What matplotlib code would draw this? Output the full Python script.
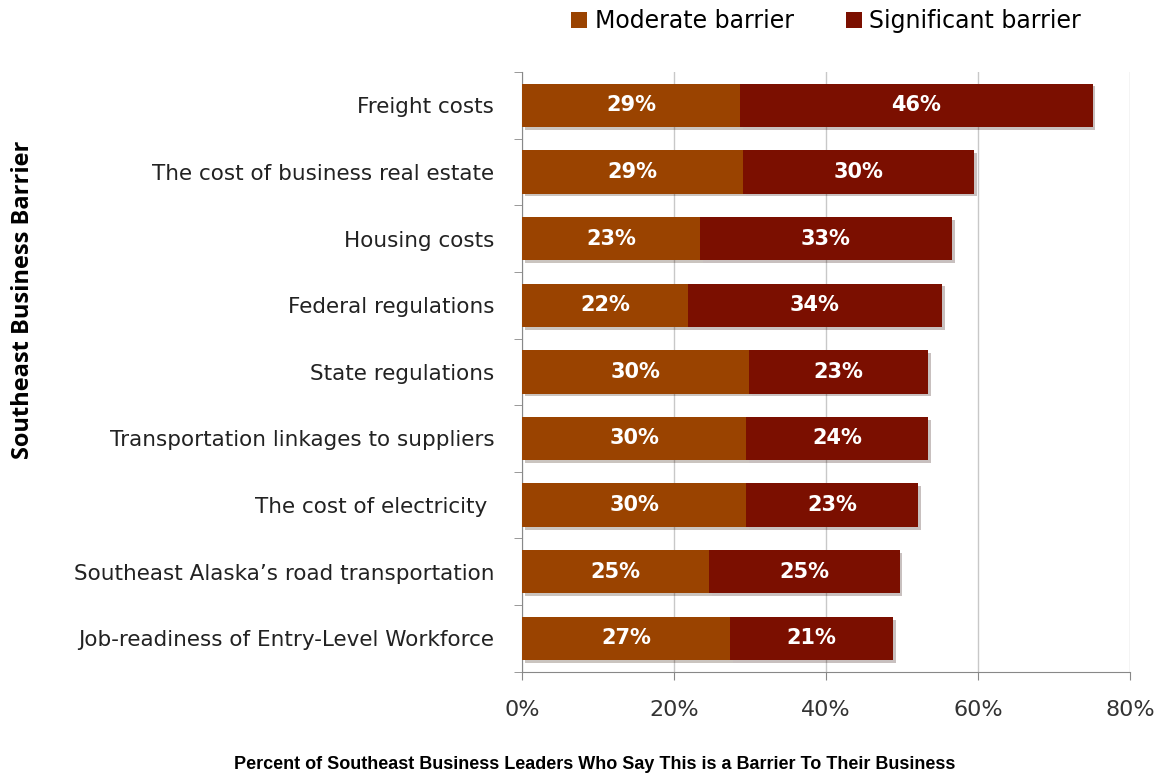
import matplotlib
matplotlib.use('Agg')
import matplotlib.pyplot as plt
import matplotlib.patheffects as pe
from matplotlib.ticker import FuncFormatter

# %%
categories = [
    "Freight costs",
    "The cost of business real estate",
    "Housing costs",
    "Federal regulations",
    "State regulations",
    "Transportation linkages to suppliers",
    "The cost of electricity ",
    "Southeast Alaska\u2019s road transportation",
    "Job-readiness of Entry-Level Workforce",
]
moderate = [28.7, 29.1, 23.4, 21.8, 29.9, 29.5, 29.5, 24.6, 27.4]
significant = [46.4, 30.4, 33.2, 33.5, 23.5, 23.9, 22.6, 25.1, 21.4]
moderate_labels = ["29%", "29%", "23%", "22%", "30%", "30%", "30%", "25%", "27%"]
significant_labels = ["46%", "30%", "33%", "34%", "23%", "24%", "23%", "25%", "21%"]

plt.rcParams['font.family'] = ['DejaVu Sans']

fig = plt.figure(figsize=[11.6, 7.82], dpi=100)
ax = fig.add_axes([0.45, 0.141, 0.524, 0.767])

y = list(range(len(categories)))
shadow = [pe.SimplePatchShadow(offset=(2, -2), alpha=0.25), pe.Normal()]
b1 = ax.barh(y, moderate, height=0.65, color='#9A4300', label='Moderate barrier',
             path_effects=shadow, zorder=3)
b2 = ax.barh(y, significant, left=moderate, height=0.65, color='#7B0F00',
             label='Significant barrier', path_effects=shadow, zorder=3)

for i in y:
    ax.text(moderate[i] / 2, i, moderate_labels[i], ha='center', va='center',
            color='white', fontsize=15, fontweight='bold', zorder=4)
    ax.text(moderate[i] + significant[i] / 2, i, significant_labels[i], ha='center',
            va='center', color='white', fontsize=15, fontweight='bold', zorder=4)

ax.set_ylim(len(categories) - 0.5, -0.5)
ax.set_xlim(0, 80)
ax.set_xticks([0, 20, 40, 60, 80])
ax.xaxis.set_major_formatter(FuncFormatter(lambda v, p: '{:.0f}%'.format(v)))
ax.set_yticks(y)
ax.set_yticklabels(categories, fontsize=15.5, color='#222222')
ax.set_yticks([i + 0.5 for i in range(-1, len(categories))], minor=True)
ax.tick_params(axis='y', which='major', length=0, pad=20)
ax.tick_params(axis='y', which='minor', length=6, color='#888888')
ax.tick_params(axis='x', labelsize=16, length=6, color='#888888', pad=14, labelcolor='#333333')
ax.grid(axis='x', color='#c8c8c8', linewidth=1, zorder=0)
for s in ['top', 'right']:
    ax.spines[s].set_visible(False)
for s in ['left', 'bottom']:
    ax.spines[s].set_color('#888888')

fig.text(0.02, 0.617, 'Southeast Business Barrier', rotation=90, ha='center', va='center',
         fontsize=17, fontweight='bold', family=['Open Sans', 'DejaVu Sans'])
fig.text(0.513, 0.012, 'Percent of Southeast Business Leaders Who Say This is a Barrier To Their Business',
         ha='center', va='bottom', fontsize=13, fontweight='bold',
         family=['Liberation Sans', 'DejaVu Sans'])

leg = ax.legend([b1.patches[0], b2.patches[0]], ['Moderate barrier', 'Significant barrier'],
                loc='upper center', bbox_to_anchor=(0.5, 1.14), ncol=2, frameon=False,
                fontsize=17, handlelength=0.7, handleheight=0.7, handletextpad=0.3,
                columnspacing=2.2)
for h in leg.legend_handles:
    h.set_path_effects([])

fig.savefig('out.png', dpi=100)
